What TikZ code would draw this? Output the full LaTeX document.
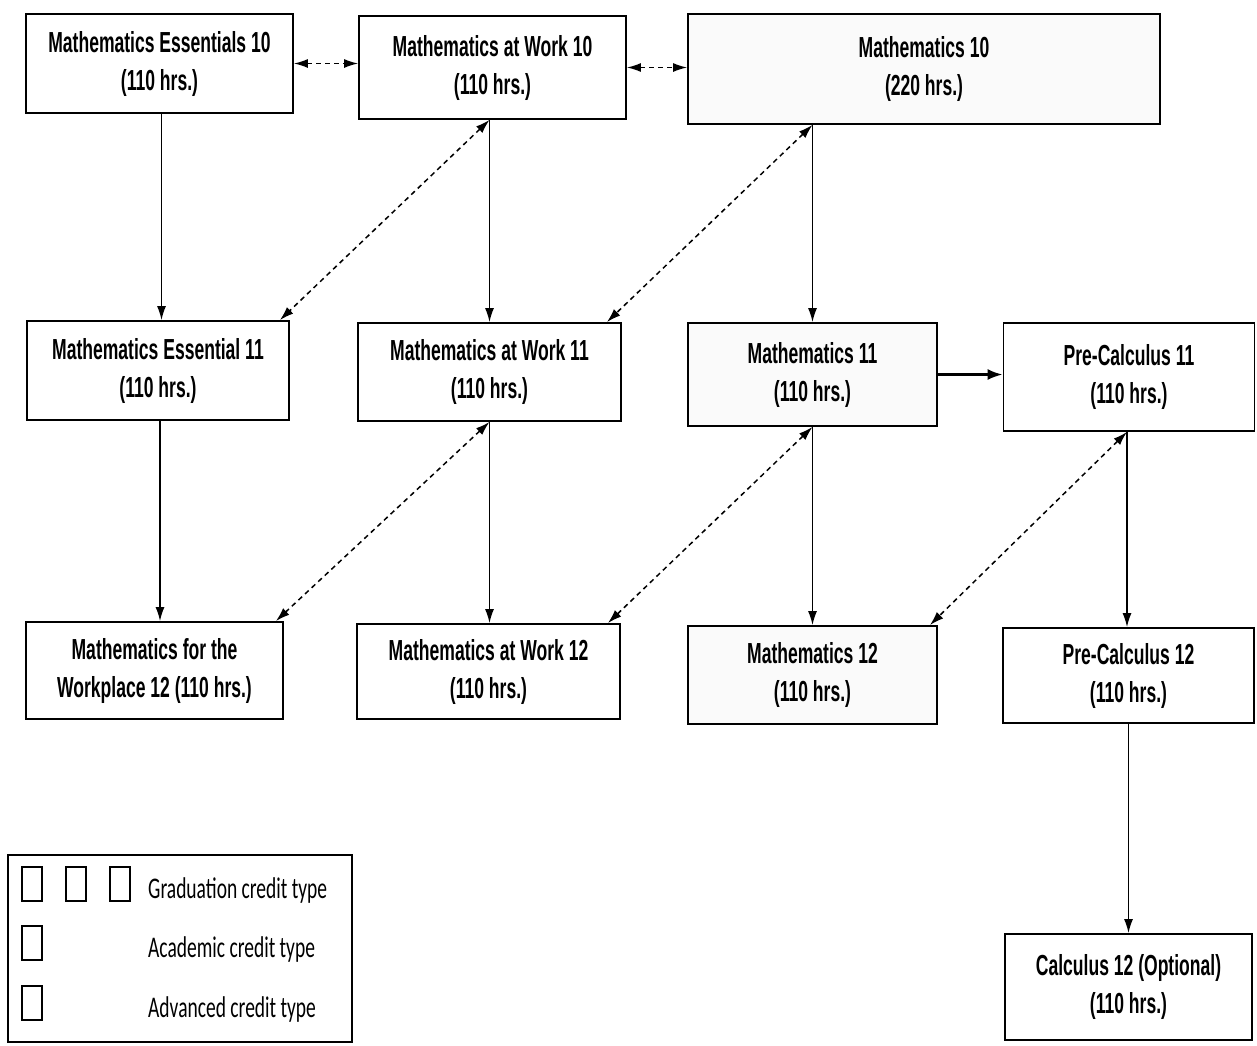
\documentclass[tikz,border=0pt]{standalone}
\usepackage{fontspec}
\usetikzlibrary{arrows.meta,calc}
\newfontfamily\boxfont{Liberation Sans}[FakeStretch=0.605]
\newfontfamily\legfont{Carlito}[FakeStretch=0.65]
\tikzset{
  course/.style={draw, line width=1.8pt, inner sep=0pt, align=center,
    font=\boxfont\bfseries\fontsize{29}{38}\selectfont},
  shaded/.style={course, fill=black!2},
  arr/.style={line width=1.5pt, -{Latex[length=14pt,width=9pt]}},
  thickarr/.style={line width=2.4pt, -{Latex[length=15pt,width=11pt]}},
  darr/.style={line width=1.5pt, dash pattern=on 5pt off 4pt,
    {Latex[length=14pt,width=9pt]}-{Latex[length=14pt,width=9pt]}},
  legbox/.style={draw, line width=1.4pt, inner sep=0pt, minimum width=20pt, minimum height=34pt},
  legtext/.style={anchor=base west, inner sep=0pt, font=\legfont\fontsize{30}{36}\selectfont}
}
\begin{document}
\begin{tikzpicture}[x=1pt,y=-1pt]
\useasboundingbox (0,0) rectangle (1257,1045);
% row 10
\node[course, minimum width=267pt, minimum height=99pt] (ess10) at (159.5,63.5) {Mathematics Essentials 10\\(110 hrs.)};
\node[course, minimum width=267pt, minimum height=103pt] (work10) at (492.5,67.5) {Mathematics at Work 10\\(110 hrs.)};
\node[shaded, minimum width=472pt, minimum height=110pt] (m10) at (924,69) {Mathematics 10\\(220 hrs.)};
% row 11
\node[course, minimum width=262pt, minimum height=99pt] (ess11) at (158,370.5) {Mathematics Essential 11\\(110 hrs.)};
\node[course, minimum width=263pt, minimum height=98pt] (work11) at (489.5,372) {Mathematics at Work 11\\(110 hrs.)};
\node[shaded, minimum width=249pt, minimum height=103pt] (m11) at (812.5,374.5) {Mathematics 11\\(110 hrs.)};
\node[course, minimum width=251pt, minimum height=108pt] (pc11) at (1129,377) {Pre-Calculus 11\\(110 hrs.)};
% row 12
\node[course, minimum width=257pt, minimum height=97pt] (wp12) at (154.5,670.5) {Mathematics for the\\Workplace 12 (110 hrs.)};
\node[course, minimum width=263pt, minimum height=95pt] (work12) at (488.5,671.5) {Mathematics at Work 12\\(110 hrs.)};
\node[shaded, minimum width=249pt, minimum height=98pt] (m12) at (812.5,675) {Mathematics 12\\(110 hrs.)};
\node[course, minimum width=251pt, minimum height=95pt] (pc12) at (1128.5,675.5) {Pre-Calculus 12\\(110 hrs.)};
\node[course, minimum width=247pt, minimum height=106pt] (calc12) at (1128.5,987) {Calculus 12 (Optional)\\(110 hrs.)};
% solid arrows
\draw[arr] ([xshift=2pt]ess10.south) -- ([xshift=2pt]ess10.south |- ess11.north);
\draw[arr] ([xshift=-3pt]work10.south) -- ([xshift=-3pt]work10.south |- work11.north);
\draw[arr] (m11.north |- m10.south) -- (m11.north);
\draw[arr] ([xshift=2pt]ess11.south) -- ([xshift=2pt]ess11.south |- wp12.north);
\draw[arr] (work11.south) -- (work11.south |- work12.north);
\draw[arr] (m11.south) -- (m11.south |- m12.north);
\draw[arr] ([xshift=-2pt]pc11.south) -- ([xshift=-2pt]pc11.south |- pc12.north);
\draw[arr] (pc12.south) -- (pc12.south |- calc12.north);
\draw[thickarr] (m11.east) -- (m11.east -| pc11.west);
% dashed double arrows
\draw[darr] (ess10.east) -- (ess10.east -| work10.west);
\draw[darr] (work10.east) -- (work10.east -| m10.west);
\draw[darr] ([xshift=-3pt]work10.south) -- ([xshift=-10pt]ess11.north east);
\draw[darr] (m11.north |- m10.south) -- ([xshift=-15pt]work11.north east);
\draw[darr] (work11.south) -- ([xshift=-8pt]wp12.north east);
\draw[darr] (m11.south) -- ([xshift=-13pt]work12.north east);
\draw[darr] ([xshift=-2pt]pc11.south) -- ([xshift=-8pt]m12.north east);
% legend
\node[draw, line width=1.4pt, minimum width=344pt, minimum height=187pt, inner sep=0pt] (legend) at (180,948.5) {};
\node[legbox] (g1) at (32,884) {};
\node[legbox] (g2) at (76,884) {};
\node[legbox] (g3) at (120,884) {};
\node[legbox] (ac) at (32,943) {};
\node[legbox] (ad) at (32,1003) {};
\node[legtext] (tg) at (148,898) {Graduation credit type};
\node[legtext] (ta) at (148,957) {Academic credit type};
\node[legtext] (tv) at (148,1017) {Advanced credit type};
\end{tikzpicture}
\end{document}
